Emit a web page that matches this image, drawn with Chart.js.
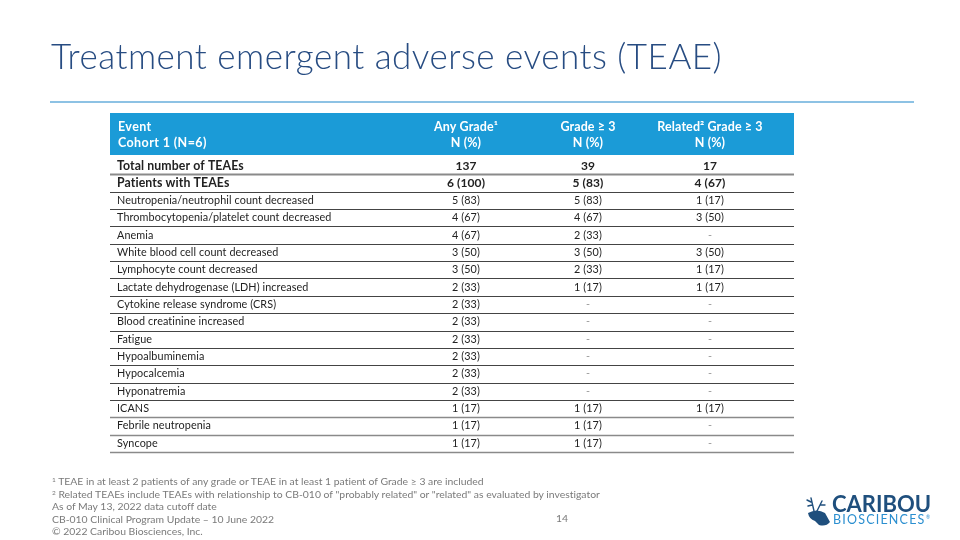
<!DOCTYPE html>
<html>
<head>
<meta charset="utf-8">
<script src="https://cdn.jsdelivr.net/npm/chart.js@4/dist/chart.umd.min.js"></script>
<style>
  body { margin: 0; background: #fff; font-family: Lato, "Open Sans", sans-serif; font-variant-ligatures: none; }
  #page { position: relative; width: 960px; height: 540px; overflow: hidden; }
  #chartBox { position: absolute; left: 0; top: 0; width: 960px; height: 540px; }
  #title { position: absolute; left: 51px; top: 34px; font-size: 35px; font-weight: 300; letter-spacing: 0.5px; color: #274c82; white-space: nowrap; }
  #rule { position: absolute; left: 50px; top: 101px; width: 864px; height: 2px; background: #8dc2e4; }
  #notes { position: absolute; left: 52px; top: 475px; font-size: 10.4px; line-height: 12.5px; color: #7a7a7a; white-space: nowrap; }
  #notes sup { font-size: 6.5px; vertical-align: 3px; line-height: 0; }
  #pageNum { position: absolute; left: 556px; top: 512px; font-size: 10.4px; color: #7a7a7a; }
  #logo { position: absolute; left: 804px; top: 490px; width: 140px; height: 40px; }
</style>
</head>
<body>
<div id="page">
  <div id="chartBox"><canvas id="teaeTable"></canvas></div>
  <div id="title">Treatment emergent adverse events (TEAE)</div>
  <div id="rule"></div>
  <div id="notes">
    <sup>1</sup> TEAE in at least 2 patients of any grade or TEAE in at least 1 patient of Grade ≥ 3 are included<br>
    <sup>2</sup> Related TEAEs include TEAEs with relationship to CB-010 of "probably related" or "related" as evaluated by investigator<br>
    As of May 13, 2022 data cutoff date<br>
    CB-010 Clinical Program Update – 10 June 2022<br>
    © 2022 Caribou Biosciences, Inc.
  </div>
  <div id="pageNum">14</div>
  <svg id="logo" viewBox="0 0 140 40">
    <g fill="none" stroke="#1f4f7d" stroke-width="1.4" stroke-linecap="round">
      <path d="M10 21 L7 8 M7 12 L3 10 M8 15 L4 16 M13 21 L18 11 M16 15 L21 15"/>
    </g>
    <path d="M4 23 Q13 18 21 23 L26 32 Q22 37 15 35 L11 31 Q5 29 4 23 Z" fill="#1f4f7d"/>
    <text x="28" y="22" font-family="Lato, sans-serif" font-weight="bold" font-size="22" fill="#1f4f7d">CARIBOU</text>
    <text x="29" y="34" font-family="Lato, sans-serif" font-size="12.5" letter-spacing="1.2" fill="#2b8fd0">BIOSCIENCES</text>
    <text x="122" y="29" font-family="Lato, sans-serif" font-size="5" fill="#2b8fd0">®</text>
  </svg>
</div>
<script>
// table content
const events = [
    'Total number of TEAEs',
    'Patients with TEAEs',
    'Neutropenia/neutrophil count decreased',
    'Thrombocytopenia/platelet count decreased',
    'Anemia',
    'White blood cell count decreased',
    'Lymphocyte count decreased',
    'Lactate dehydrogenase (LDH) increased',
    'Cytokine release syndrome (CRS)',
    'Blood creatinine increased',
    'Fatigue',
    'Hypoalbuminemia',
    'Hypocalcemia',
    'Hyponatremia',
    'ICANS',
    'Febrile neutropenia',
    'Syncope'
];
const columns = ['Any Grade¹', 'Grade ≥ 3', 'Related² Grade ≥ 3'];
const subHeader = 'N (%)';
const headerLines = ['Event', 'Cohort 1 (N=6)'];

const anyGrade = ['137', '6 (100)', '5 (83)', '4 (67)', '4 (67)', '3 (50)', '3 (50)', '2 (33)', '2 (33)',
    '2 (33)', '2 (33)', '2 (33)', '2 (33)', '2 (33)', '1 (17)', '1 (17)', '1 (17)'];
const grade3 = ['39', '5 (83)', '5 (83)', '4 (67)', '2 (33)', '3 (50)', '2 (33)', '1 (17)', '-',
    '-', '-', '-', '-', '-', '1 (17)', '1 (17)', '1 (17)'];
const related3 = ['17', '4 (67)', '1 (17)', '3 (50)', '-', '3 (50)', '1 (17)', '1 (17)', '-',
    '-', '-', '-', '-', '-', '1 (17)', '-', '-'];
const boldRows = 2;

const seriesCols = [anyGrade, grade3, related3];

const TABLE_LEFT = 110;
const TABLE_RIGHT = 794;
const HEADER_BLUE = '#1b9bd7';
const FONT = 'Lato, "Open Sans", sans-serif';

const tablePlugin = {
    id: 'tablePlugin',
    beforeDraw(chart) {
        const ctx = chart.ctx;
        const xs = chart.scales.x;
        ctx.letterSpacing = '0.1px';
        ctx.save();
        ctx.fillStyle = HEADER_BLUE;
        ctx.fillRect(TABLE_LEFT, xs.top, TABLE_RIGHT - TABLE_LEFT, xs.bottom - xs.top - 2);
        // Event / Cohort header on the left
        ctx.fillStyle = '#ffffff';
        ctx.font = 'bold 12.5px ' + FONT;
        ctx.letterSpacing = '0.4px';
        ctx.textBaseline = 'middle';
        ctx.textAlign = 'left';
        ctx.fillText(headerLines[0], 118, xs.top + 14);
        ctx.fillText(headerLines[1], 118, xs.top + 30);
        ctx.restore();
    },
    afterDatasetsDraw(chart) {
        const ctx = chart.ctx;
        const ys = chart.scales.y;
        const step = ys.getPixelForValue(1) - ys.getPixelForValue(0);
        ctx.save();
        // row separators
        events.forEach((e, i) => {
            const y = Math.round(ys.getPixelForValue(i) + step / 2) + 0.5;
            ctx.beginPath();
            if (i === 0) {
                ctx.strokeStyle = '#8a8a8a';
                ctx.lineWidth = 2;
            } else if (i >= events.length - 3) {
                ctx.strokeStyle = '#8a8a8a';
                ctx.lineWidth = 1.5;
            } else {
                ctx.strokeStyle = '#444';
                ctx.lineWidth = 1;
            }
            ctx.moveTo(TABLE_LEFT, y);
            ctx.lineTo(TABLE_RIGHT, y);
            ctx.stroke();
        });
        // cell values
        ctx.textAlign = 'center';
        ctx.textBaseline = 'middle';
        chart.data.datasets.forEach((ds, di) => {
            const meta = chart.getDatasetMeta(di);
            meta.data.forEach((pt, i) => {
                const raw = ds.data[i];
                const bold = events.indexOf(raw.y) < boldRows;
                ctx.font = bold ? 'bold 12px ' + FONT : '10.8px ' + FONT;
                ctx.fillStyle = raw.v === '-' ? '#999' : '#222';
                ctx.fillText(raw.v, pt.x, pt.y);
            });
        });
        ctx.restore();
    }
};

const datasets = seriesCols.map((vals, c) => ({
    label: columns[c],
    data: vals.map((v, i) => ({ x: columns[c], y: events[i], v: v })),
    pointRadius: 0,
    showLine: false
}));

const config = {
    type: 'scatter',
    data: { datasets: datasets },
    options: {
        responsive: false,
        animation: false,
        events: [],
        layout: { padding: { left: 117, top: 113, right: 189, bottom: 88 } },
        plugins: {
            legend: { display: false },
            tooltip: { enabled: false }
        },
        scales: {
            x: {
                type: 'category',
                labels: columns,
                position: 'top',
                offset: true,
                grid: { display: false, drawTicks: false },
                border: { display: false },
                afterFit(scale) { scale.height = 44; },
                ticks: {
                    padding: 6,
                    color: '#ffffff',
                    font: { family: FONT, size: 12.5, weight: 'bold', lineHeight: 1.3 },
                    maxRotation: 0,
                    autoSkip: false,
                    callback(value) { return [columns[value], subHeader]; }
                }
            },
            y: {
                type: 'category',
                labels: events,
                offset: true,
                grid: { display: false, drawTicks: false },
                border: { display: false },
                afterFit(scale) { scale.width = 288; },
                ticks: {
                    crossAlign: 'far',
                    padding: 0,
                    color: '#222',
                    autoSkip: false,
                    font: (c) => c.index < boldRows
                        ? { family: FONT, size: 12.3, weight: 'bold' }
                        : { family: FONT, size: 10.8, weight: 'normal' }
                }
            }
        }
    },
    plugins: [tablePlugin]
};

const canvas = document.getElementById('teaeTable');
canvas.width = 960;
canvas.height = 540;
new Chart(canvas, config);
</script>
</body>
</html>
